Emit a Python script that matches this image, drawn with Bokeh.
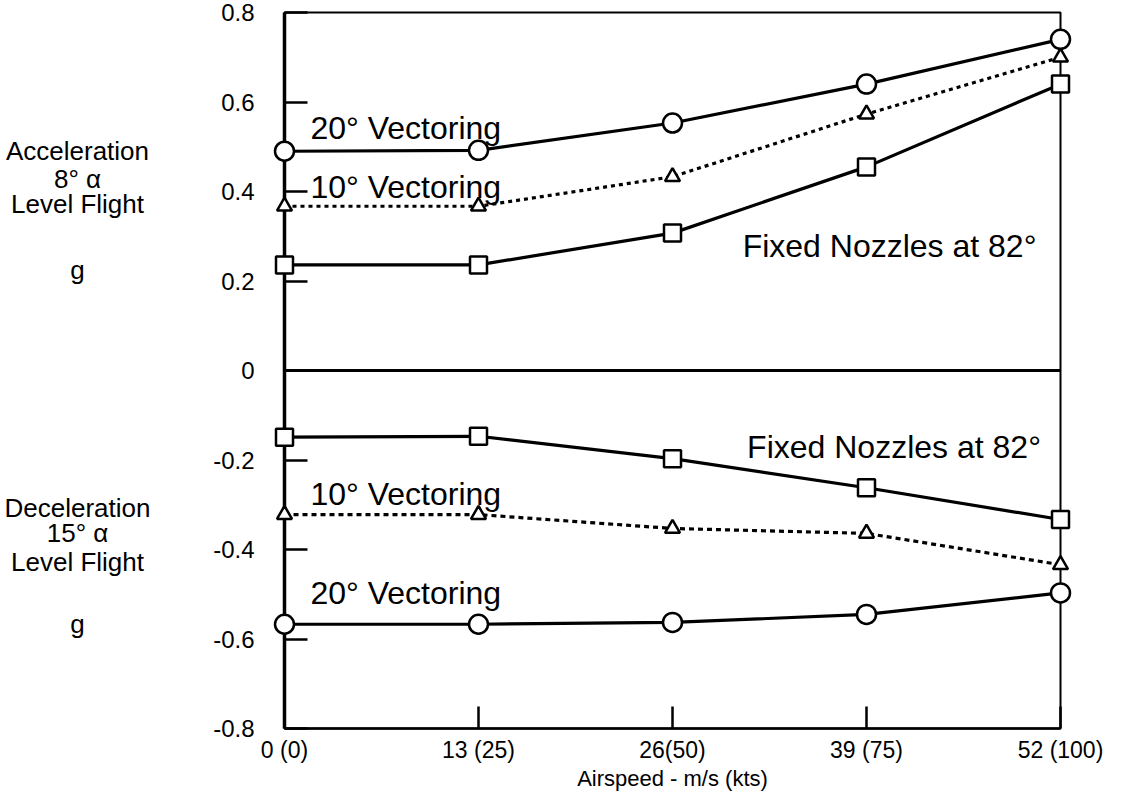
from bokeh.plotting import figure
from bokeh.layouts import row
from bokeh.models import Span, Label, FixedTicker
from bokeh.core.properties import value
from bokeh.embed import file_html
from bokeh.resources import INLINE

# ---- data ----
speed = [0, 13, 26, 39, 52]
speed_labels = ["0 (0)", "13 (25)", "26(50)", "39 (75)", "52 (100)"]
y_ticks = [-0.8, -0.6, -0.4, -0.2, 0, 0.2, 0.4, 0.6, 0.8]
y_tick_labels = ["-0.8", "-0.6", "-0.4", "-0.2", "0", "0.2", "0.4", "0.6", "0.8"]

acc_20 = [0.490, 0.492, 0.553, 0.640, 0.740]
acc_10 = [0.367, 0.367, 0.433, 0.573, 0.700]
acc_fixed = [0.236, 0.236, 0.307, 0.455, 0.640]
dec_fixed = [-0.149, -0.147, -0.197, -0.262, -0.333]
dec_10 = [-0.322, -0.322, -0.353, -0.364, -0.434]
dec_20 = [-0.567, -0.567, -0.563, -0.545, -0.497]

side_text = ["Acceleration", "8° α", "Level Flight", "g",
             "Deceleration", "15° α", "Level Flight", "g"]
side_y = [0.491, 0.429, 0.371, 0.225, -0.307, -0.364, -0.429, -0.567]

FONT = "Liberation Sans"
TOP, BOTTOM = 12, 63
FRAME_H, FRAME_W = 716, 776
LEFT_W = 200

# ---- left panel with the side captions ----
s = figure(frame_width=LEFT_W, frame_height=FRAME_H, x_range=(0, 1), y_range=(-0.8, 0.8),
           output_backend="svg", toolbar_location=None,
           min_border_left=0, min_border_right=0, min_border_top=TOP,
           min_border_bottom=BOTTOM)
s.axis.visible = False
s.grid.visible = False
s.outline_line_color = None
s.text(x=[0.385] * len(side_text), y=side_y, text=side_text,
       text_font=value(FONT), text_font_size="26px", text_color="black",
       text_align="center", text_baseline="alphabetic")

# ---- main chart ----
p = figure(frame_width=FRAME_W, frame_height=FRAME_H, x_range=(0, 52), y_range=(-0.8, 0.8),
           output_backend="svg", toolbar_location=None,
           min_border_left=84, min_border_right=58, min_border_top=TOP,
           min_border_bottom=BOTTOM)
p.grid.visible = False
p.outline_line_color = "black"
p.outline_line_width = 2
p.outline_line_alpha = 1

ya = p.yaxis[0]
ya.ticker = FixedTicker(ticks=y_ticks)
ya.major_label_overrides = {t: l for t, l in zip(y_ticks, y_tick_labels)}
ya.major_tick_in = 23
ya.major_tick_out = 0
ya.minor_tick_in = 0
ya.minor_tick_out = 0
ya.major_tick_line_width = 2.5
ya.major_tick_line_color = "black"
ya.axis_line_width = 3.5
ya.axis_line_color = "black"
ya.major_label_standoff = 30
ya.major_label_text_font = FONT
ya.major_label_text_font_size = "24px"
ya.major_label_text_color = "black"

xa = p.xaxis[0]
xa.ticker = FixedTicker(ticks=speed)
xa.major_label_overrides = {sp: l for sp, l in zip(speed, speed_labels)}
xa.major_tick_in = 22
xa.major_tick_out = 0
xa.minor_tick_in = 0
xa.minor_tick_out = 0
xa.major_tick_line_width = 2.5
xa.major_tick_line_color = "black"
xa.axis_line_width = 2.5
xa.axis_line_color = "black"
xa.major_label_standoff = 8
xa.major_label_text_font = FONT
xa.major_label_text_font_size = "23px"
xa.major_label_text_color = "black"
xa.axis_label = "Airspeed - m/s (kts)"
xa.axis_label_text_font = FONT
xa.axis_label_text_font_size = "22px"
xa.axis_label_text_font_style = "normal"
xa.axis_label_text_color = "black"
xa.axis_label_standoff = 0

p.add_layout(Span(location=0, dimension="width", line_color="black", line_width=3))

series = [
    (acc_20, "solid", "circle", 19),
    (acc_10, "4 4", "triangle", 15),
    (acc_fixed, "solid", "square", 17),
    (dec_fixed, "solid", "square", 17),
    (dec_10, "5 4", "triangle", 15),
    (dec_20, "solid", "circle", 19),
]
for ys, dash, marker, size in series:
    p.line(speed, ys, line_color="black", line_width=3.2, line_dash=dash)
    r = p.scatter(speed, ys, marker=marker, size=size, fill_color="white",
                  line_color="black", line_width=2.5)
    r.level = "overlay"

ann = [
    (1.74, 0.542, "20° Vectoring"),
    (1.74, 0.411, "10° Vectoring"),
    (30.7, 0.278, "Fixed Nozzles at 82°"),
    (31.0, -0.171, "Fixed Nozzles at 82°"),
    (1.74, -0.276, "10° Vectoring"),
    (1.74, -0.498, "20° Vectoring"),
]
for x, y, t in ann:
    p.add_layout(Label(x=x, y=y, text=t, text_font=FONT, text_font_size="32px",
                       text_color="black", text_align="left",
                       text_baseline="alphabetic"))

layout = row(s, p, spacing=0)
open("out.html", "w").write(file_html(layout, INLINE))
